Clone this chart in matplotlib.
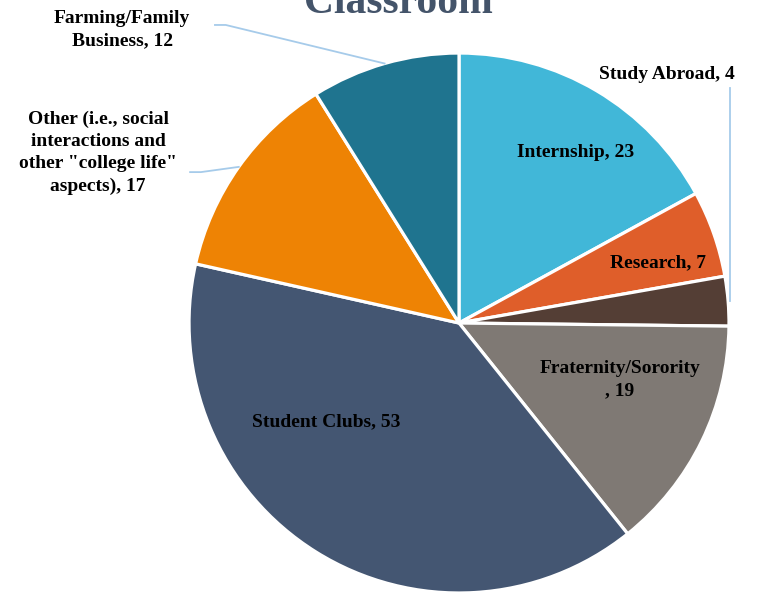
import numpy as np
import matplotlib.pyplot as plt

# data
categories = ['Internship', 'Research', 'Study Abroad', 'Fraternity/Sorority',
              'Student Clubs', 'Other (i.e., social interactions and other "college life" aspects)',
              'Farming/Family Business']
values = [23, 7, 4, 19, 53, 17, 12]
labels = ['Internship, 23', 'Research, 7', 'Study Abroad, 4', 'Fraternity/Sorority\n, 19',
          'Student Clubs, 53',
          'Other (i.e., social\ninteractions and\nother "college life"\naspects), 17',
          'Farming/Family\nBusiness, 12']
colors = ['#41B7D8', '#DF5E2A', '#543E35', '#7F7974', '#445672', '#EE8304', '#1F748F']

font = 'Liberation Serif'

fig = plt.figure(figsize=(7.57, 5.94), dpi=100)
ax = fig.add_axes([0.2497, 0.0017, 0.7133, 0.909])

wedges, _ = ax.pie(values, colors=colors, startangle=90, counterclock=False,
                   wedgeprops=dict(edgecolor='white', linewidth=2.3))
ax.set_xlim(-1, 1)
ax.set_ylim(-1, 1)
ax.set_aspect('equal')
ax.axis('off')

# label placement (data coords of the pie axes)
inside = {0: (0.43, 0.63), 1: (0.737, 0.222), 3: (0.596, -0.211), 4: (-0.493, -0.367)}
for i, pos in inside.items():
    ax.text(pos[0], pos[1], labels[i], ha='center', va='center', fontsize=14,
            fontweight='bold', family=font, color='black', linespacing=1.4)

line_col = '#A6CBEA'
outside = {2: ((0.77, 0.922), (1.004, 0.87)),
           5: ((-1.337, 0.63), (-0.996, 0.559)),
           6: ((-1.248, 1.085), (-0.904, 1.104))}
for i, (tpos, lstart) in outside.items():
    ax.text(tpos[0], tpos[1], labels[i], ha='center', va='center', fontsize=14,
            fontweight='bold', family=font, color='black', linespacing=1.4,
            clip_on=False)
    w = wedges[i]
    mid = np.deg2rad((w.theta1 + w.theta2) / 2)
    ex, ey = np.cos(mid), np.sin(mid)
    if i == 2:
        xs, ys = [lstart[0], lstart[0]], [lstart[1], ey]
    else:
        xs, ys = [lstart[0], lstart[0] + 0.04, ex], [lstart[1], lstart[1], ey]
    ax.plot(xs, ys, color=line_col, linewidth=1.3, clip_on=False)

fig.text(0.526, 0.978, 'Classroom', ha='center', va='baseline', fontsize=30,
         fontweight='bold', family=font, color='#44546A')

fig.savefig('out.png', dpi=100)
